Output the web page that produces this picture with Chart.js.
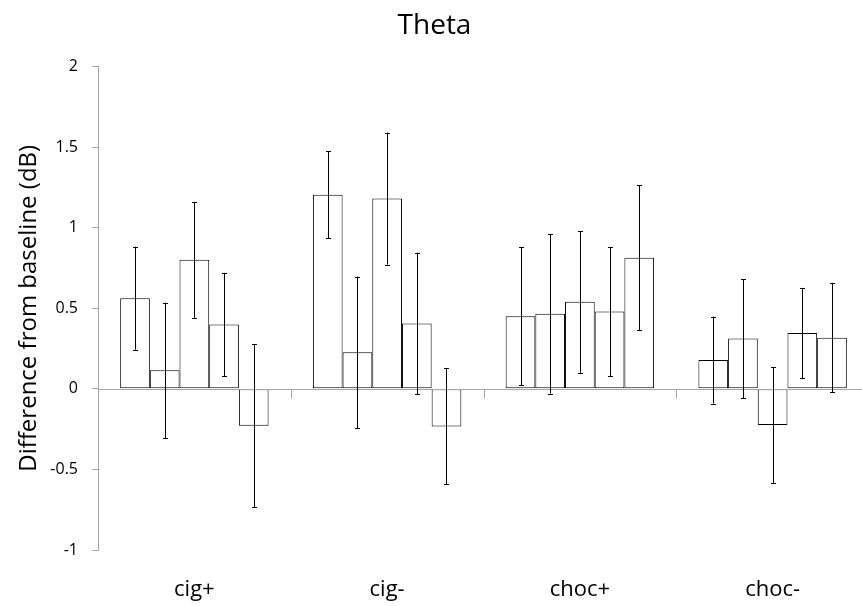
<!DOCTYPE html>
<html>
<head>
<meta charset="utf-8">
<script src="https://cdn.jsdelivr.net/npm/chart.js@4.4.0/dist/chart.umd.min.js"></script>
<style>
  html, body { margin: 0; padding: 0; background: #fff; }
  #wrap { width: 862px; height: 606px; overflow: hidden; }
</style>
</head>
<body>
<div id="wrap"><canvas id="thetaChart" width="869" height="606"></canvas></div>
<script>
  const categories = ['cig+', 'cig-', 'choc+', 'choc-'];

  // bar heights, one array per bar position within each group
  const series1 = [0.563, 1.204, 0.451, 0.179];
  const series2 = [0.115, 0.227, 0.466, 0.312];
  const series3 = [0.801, 1.181, 0.540, -0.225];
  const series4 = [0.400, 0.406, 0.480, 0.347];
  const series5 = [-0.229, -0.233, 0.814, 0.318];

  // error bar half lengths
  const error1 = [0.32, 0.27, 0.43, 0.27];
  const error2 = [0.42, 0.47, 0.495, 0.37];
  const error3 = [0.36, 0.41, 0.44, 0.36];
  const error4 = [0.32, 0.44, 0.40, 0.28];
  const error5 = [0.505, 0.36, 0.45, 0.34];

  const yTicks = [-1, -0.5, 0, 0.5, 1, 1.5, 2];

  const allSeries = [series1, series2, series3, series4, series5];
  const allErrors = [error1, error2, error3, error4, error5];

  const axisGray = '#a6a6a6';
  const fontFamily = '"Open Sans", "Noto Sans", sans-serif';

  // zero line with category ticks, then the error bars
  const overlay = {
    id: 'overlay',
    afterDatasetsDraw(chart) {
      const { ctx, chartArea, scales: { x, y } } = chart;
      const y0 = Math.round(y.getPixelForValue(0)) + 0.5;
      ctx.save();
      ctx.strokeStyle = axisGray;
      ctx.lineWidth = 1;
      ctx.beginPath();
      ctx.moveTo(chartArea.left, y0);
      ctx.lineTo(chartArea.right, y0);
      const half = (x.getPixelForValue(1) - x.getPixelForValue(0)) / 2;
      for (let i = 1; i < categories.length + 1; i++) {
        const bx = Math.round(x.getPixelForValue(i) - half) + 0.5;
        ctx.moveTo(bx, y0);
        ctx.lineTo(bx, y0 + 9);
      }
      ctx.stroke();

      ctx.strokeStyle = '#000';
      allErrors.forEach((errs, di) => {
        const meta = chart.getDatasetMeta(di);
        meta.data.forEach((bar, i) => {
          const v = allSeries[di][i];
          const top = y.getPixelForValue(v + errs[i]);
          const bot = y.getPixelForValue(v - errs[i]);
          const cx = Math.round(bar.x) + 0.5;
          ctx.beginPath();
          ctx.moveTo(cx, top);
          ctx.lineTo(cx, bot);
          ctx.moveTo(cx - 2.5, Math.round(top) + 0.5);
          ctx.lineTo(cx + 2.5, Math.round(top) + 0.5);
          ctx.moveTo(cx - 2.5, Math.round(bot) + 0.5);
          ctx.lineTo(cx + 2.5, Math.round(bot) + 0.5);
          ctx.stroke();
        });
      });
      ctx.restore();
    }
  };

  const ctx = document.getElementById('thetaChart').getContext('2d');
  new Chart(ctx, {
    type: 'bar',
    data: {
      labels: categories,
      datasets: allSeries.map((s, i) => ({
        label: 'series ' + (i + 1),
        data: s,
        backgroundColor: '#ffffff',
        borderColor: '#000000',
        borderWidth: 1,
        borderSkipped: false,
        categoryPercentage: 0.77,
        barPercentage: 1.0
      }))
    },
    options: {
      responsive: false,
      animation: false,
      layout: { padding: 0 },
      plugins: {
        legend: { display: false },
        tooltip: { enabled: false },
        title: {
          display: true,
          text: 'Theta',
          color: '#000',
          font: { family: fontFamily, size: 28, weight: 'normal' },
          padding: { top: 9, bottom: 24 }
        }
      },
      scales: {
        x: {
          grid: { display: false, drawTicks: false, tickLength: 0 },
          border: { display: false },
          ticks: {
            color: '#000',
            padding: 27,
            font: { family: fontFamily, size: 22 }
          },
          afterFit(scale) { scale.height = 56; }
        },
        y: {
          min: -1,
          max: 2,
          afterBuildTicks(scale) { scale.ticks = yTicks.map(v => ({ value: v })); },
          grid: { drawOnChartArea: false, drawTicks: true, tickLength: 6, color: axisGray },
          border: { display: true, color: axisGray },
          ticks: {
            color: '#000',
            padding: 14,
            font: { family: fontFamily, size: 16 },
            callback: v => String(v)
          },
          title: {
            display: true,
            text: 'Difference from baseline (dB)',
            color: '#000',
            font: { family: fontFamily, size: 24 },
            padding: { top: 15, bottom: 0 }
          },
          afterFit(scale) { scale.width = 98; }
        }
      }
    },
    plugins: [overlay]
  });
</script>
</body>
</html>
